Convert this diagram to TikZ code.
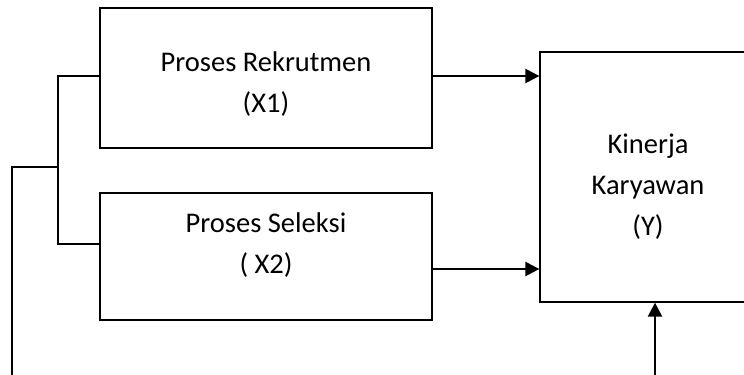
\documentclass[tikz,border=0pt]{standalone}
\usepackage{fontspec}
\setmainfont{Carlito}
\usetikzlibrary{arrows.meta}
\begin{document}
\begin{tikzpicture}[x=1bp,y=-1bp,
  boxstyle/.style={draw,line width=1.3bp,rectangle,inner sep=0pt},
  txt/.style={align=center,font=\fontsize{28.5bp}{41bp}\selectfont,inner sep=0pt},
  conn/.style={line width=1.2bp},
  arr/.style={line width=2.4bp,-{Triangle[length=14bp,width=14bp]}}]
\useasboundingbox (0,0) rectangle (744,374);
\clip (0,0) rectangle (744,374);
\node[boxstyle,minimum width=332bp,minimum height=140bp] (b1) at (266,78) {};
\node[boxstyle,minimum width=332bp,minimum height=127bp] (b2) at (266,256.5) {};
\node[boxstyle,minimum width=216bp,minimum height=250bp] (y) at (648,177) {};
\node[txt] (t1) at (266,84) {Proses Rekrutmen\\(X1)};
\node[txt] (t2) at (266,245) {Proses Seleksi\\( X2)};
\node[txt] (t3) at (648,187) {Kinerja\\Karyawan\\(Y)};
\coordinate (j1) at (58,76);
\coordinate (j2) at (58,244);
\coordinate (jm) at (58,167);
\coordinate (l1) at (12,167);
\coordinate (l2) at (12,380);
\coordinate (r2) at (655,380);
\draw[conn] (b1.west |- j1) -- (j1) -- (j2) -- (b2.west |- j2);
\draw[conn] (jm) -- (l1) -- (l2);
\draw[arr] (b1.east |- 0,76) -- (y.west |- 0,76);
\draw[arr] (b2.east |- 0,269) -- (y.west |- 0,269);
\draw[arr] (r2) -- (y.south -| r2);
\end{tikzpicture}
\end{document}
